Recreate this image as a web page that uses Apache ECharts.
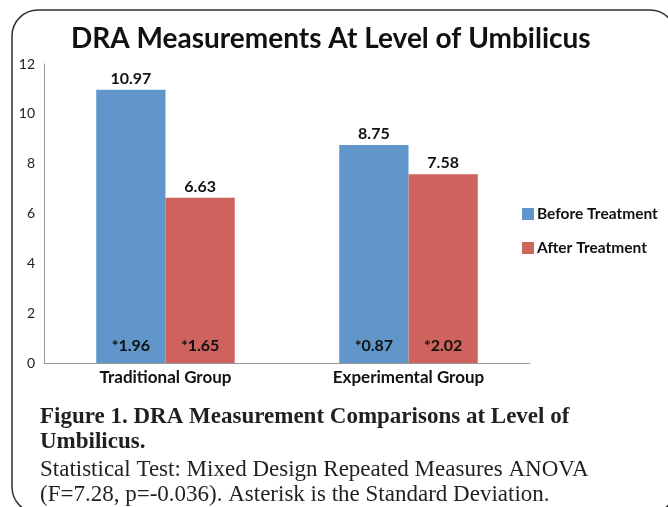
<!DOCTYPE html>
<html>
<head>
<meta charset="utf-8">
<script src="https://cdn.jsdelivr.net/npm/echarts@6/dist/echarts.min.js"></script>
<style>
html, body { margin: 0; padding: 0; background: #fff; }
#main { width: 668px; height: 507px; }
</style>
</head>
<body>
<div id="main"></div>
<script>
var groups = ['Traditional Group', 'Experimental Group'];
var beforeVals = [10.97, 8.75];
var afterVals = [6.63, 7.58];
var beforeSD = ['*1.96', '*0.87'];
var afterSD = ['*1.65', '*2.02'];
var yTicks = { min: 0, max: 12, interval: 2 };

var chart = echarts.init(document.getElementById('main'));
var sans = 'Lato, "Open Sans", sans-serif';
var serif = '"Liberation Serif", "DejaVu Serif", serif';

var topLabel = {
    show: true,
    position: 'top',
    distance: 3,
    fontFamily: sans,
    fontWeight: 'bold',
    fontSize: 16,
    color: '#111'
};

function sdLabel(arr) {
    return {
        show: true,
        position: 'insideBottom',
        distance: 9,
        fontFamily: sans,
        fontWeight: 'bold',
        fontSize: 16,
        color: '#111',
        formatter: function (p) { return arr[p.dataIndex]; }
    };
}

var option = {
    backgroundColor: '#fff',
    animation: false,
    title: {
        text: 'DRA Measurements At Level of Umbilicus',
        left: 66,
        top: 20,
        textStyle: {
            fontFamily: sans,
            fontWeight: 'bold',
            fontSize: 28,
            color: '#111'
        }
    },
    legend: {
        orient: 'vertical',
        left: 517,
        top: 201,
        itemGap: 18,
        itemWidth: 12,
        itemHeight: 12,
        icon: 'rect',
        data: ['Before Treatment', 'After Treatment'],
        textStyle: {
            fontFamily: sans,
            fontWeight: 'bold',
            fontSize: 15.5,
            color: '#111',
            padding: [0, 0, 0, -2]
        }
    },
    grid: {
        left: 44,
        right: 138,
        top: 64,
        bottom: 144
    },
    xAxis: [
        {
            type: 'category',
            data: groups,
            axisTick: { show: false },
            axisLine: { lineStyle: { color: '#999', width: 1 } },
            axisLabel: {
                fontFamily: sans,
                fontWeight: 'bold',
                fontSize: 17,
                color: '#111',
                margin: 6
            }
        },
        {
            type: 'category',
            data: groups,
            show: false
        }
    ],
    yAxis: {
        type: 'value',
        min: yTicks.min,
        max: yTicks.max,
        interval: yTicks.interval,
        splitLine: { show: false },
        axisTick: { show: false },
        axisLine: { show: true, lineStyle: { color: '#999', width: 1 } },
        axisLabel: {
            fontFamily: sans,
            fontSize: 14,
            color: '#222',
            margin: 9
        }
    },
    series: [
        {
            name: 'Before Treatment',
            type: 'bar',
            data: beforeVals,
            barGap: 0,
            barCategoryGap: '43%',
            itemStyle: { color: '#6096c9' },
            label: topLabel
        },
        {
            name: 'After Treatment',
            type: 'bar',
            data: afterVals,
            barGap: 0,
            barCategoryGap: '43%',
            itemStyle: { color: '#ce625d' },
            label: topLabel
        },
        {
            name: 'sdBefore',
            type: 'bar',
            xAxisIndex: 1,
            data: beforeVals,
            barGap: 0,
            barCategoryGap: '43%',
            silent: true,
            itemStyle: { color: 'rgba(0,0,0,0)' },
            label: sdLabel(beforeSD)
        },
        {
            name: 'sdAfter',
            type: 'bar',
            xAxisIndex: 1,
            data: afterVals,
            barGap: 0,
            barCategoryGap: '43%',
            silent: true,
            itemStyle: { color: 'rgba(0,0,0,0)' },
            label: sdLabel(afterSD)
        }
    ],
    graphic: [
        {
            type: 'rect',
            shape: { x: 12, y: 10, width: 664, height: 503, r: 26 },
            style: { fill: 'none', stroke: '#333', lineWidth: 1.5 },
            silent: true
        },
        {
            type: 'text',
            left: 40,
            top: 405,
            style: {
                text: 'Figure 1. DRA Measurement Comparisons at Level of\nUmbilicus.',
                fontFamily: serif,
                fontWeight: 'bold',
                fontSize: 23,
                lineHeight: 25,
                fill: '#231f20'
            }
        },
        {
            type: 'text',
            left: 40,
            top: 457,
            style: {
                text: 'Statistical Test: Mixed Design Repeated Measures ANOVA\n(F=7.28, p=-0.036). Asterisk is the Standard Deviation.',
                fontFamily: serif,
                fontSize: 23,
                lineHeight: 25,
                fill: '#231f20'
            }
        }
    ]
};
chart.setOption(option);
</script>
</body>
</html>
